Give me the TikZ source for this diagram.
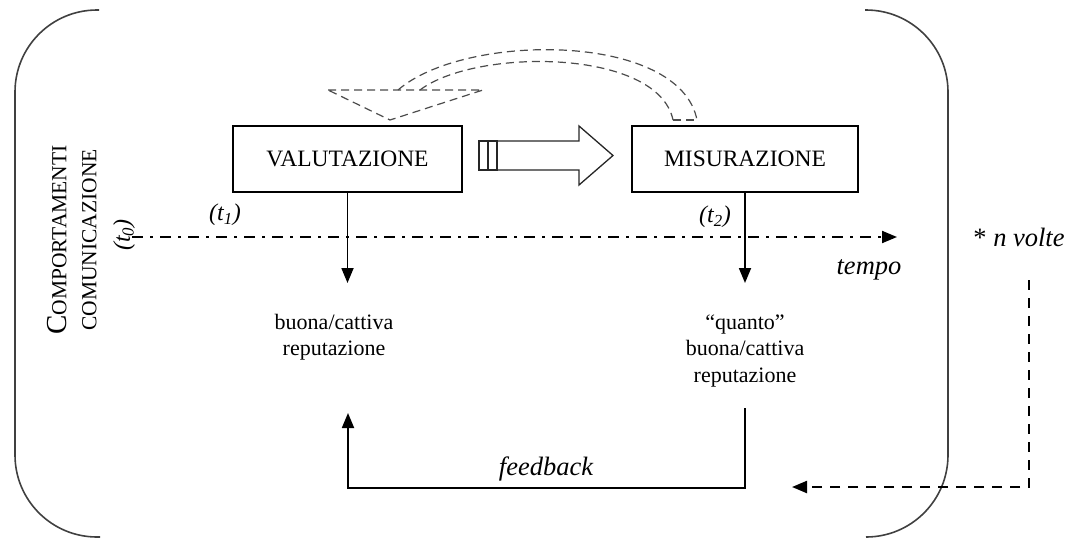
\documentclass[tikz,border=0pt]{standalone}
\usepackage{fontspec}
\setmainfont{Liberation Serif}
\usetikzlibrary{arrows.meta}
\begin{document}
\begin{tikzpicture}[x=1pt,y=-1pt,
  box/.style={draw,line width=1.8pt,minimum width=229pt,minimum height=66pt,inner sep=0pt,font=\fontsize{23.5}{27}\selectfont},
  body/.style={font=\fontsize{22}{26.5}\selectfont,align=center,inner sep=0pt},
  ital/.style={font=\fontsize{24}{28}\selectfont\itshape,inner sep=0pt},
  bigital/.style={font=\fontsize{26.5}{30}\selectfont\itshape,inner sep=0pt},
  tipstyle/.style={-{Triangle[length=15pt,width=12pt]}},
  arr/.style={line width=1.8pt,tipstyle},
  bracket/.style={line width=1.6pt,black!75,rounded corners=82pt},
  curl/.style={line width=1.2pt,black!70,dash pattern=on 8pt off 5pt},
  hollow/.style={line width=1.3pt,black!85},
  ]
\useasboundingbox (0,0) rectangle (1072,539);
% enclosing brackets
\draw[bracket] (99,10) -- (15,10) -- (15,537) -- (100,537);
\draw[bracket] (865,10) -- (948,10) -- (948,537) -- (866,537);
% boxes
\node[box] (val) at (347.5,159) {VALUTAZIONE};
\node[box,minimum width=226pt] (mis) at (745,159) {MISURAZIONE};
% hollow arrow
\draw[hollow] (479,141) rectangle (488,170);
\draw[hollow] (488,141) rectangle (497,170);
\draw[hollow] (497,141) -- (579,141) -- (579,126) -- (613,155.5) -- (579,185) -- (579,170) -- (497,170);
% dashed curled arrow
\draw[curl] (328,90) -- (483,90) -- (390,120) -- cycle;
\draw[curl] (398,90) .. controls (465,32) and (680,32) .. (697,120);
\draw[curl] (420,90) .. controls (475,48) and (658,48) .. (673,120);
\draw[curl] (673,120) -- (697,120);
% timeline
\coordinate (tl0) at (132,237);
\coordinate (tl1) at (897,237);
\draw[line width=2pt,dash pattern=on 11pt off 7pt on 3pt off 7pt,tipstyle] (tl0) -- (tl1);
% left vertical text
\node[rotate=90,align=center,inner sep=0pt,font=\fontsize{21.5}{30}\selectfont] (comp) at (72,240)
  {{\fontsize{29}{30}\selectfont C}OMPORTAMENTI\\COMUNICAZIONE};
\node[ital,rotate=90] (t0) at (124,235) {(t\textsubscript{0})};
% text nodes
\node[body] (bc1) at (334,337) {buona/cattiva\\reputazione};
\node[body] (bc2) at (745,351) {“quanto”\\buona/cattiva\\reputazione};
\coordinate (a1) at (347.5,283);
\coordinate (a2) at (745,283);
\draw[arr] (val.south) -- (a1);
\draw[arr] (mis.south) -- (a2);
\node[ital] (t1) at (225,215) {(t\textsubscript{1})};
\node[ital] (t2) at (715,217) {(t\textsubscript{2})};
\node[bigital] (tempo) at (869,270) {tempo};
% feedback loop
\coordinate (fb0) at (745,408);
\coordinate (fb1) at (348,413);
\draw[arr] (fb0) |- (fb1 |- 0,488) -- (fb1);
\node[bigital] (fbk) at (546,469) {feedback};
% n volte
\node[bigital] (nv) at (1019,237) {{\upshape *} n volte};
\coordinate (nv0) at (1029,280);
\coordinate (nv1) at (792,487);
\draw[line width=2.2pt,dash pattern=on 10pt off 8pt,tipstyle] (nv0) |- (nv1);
\end{tikzpicture}
\end{document}
